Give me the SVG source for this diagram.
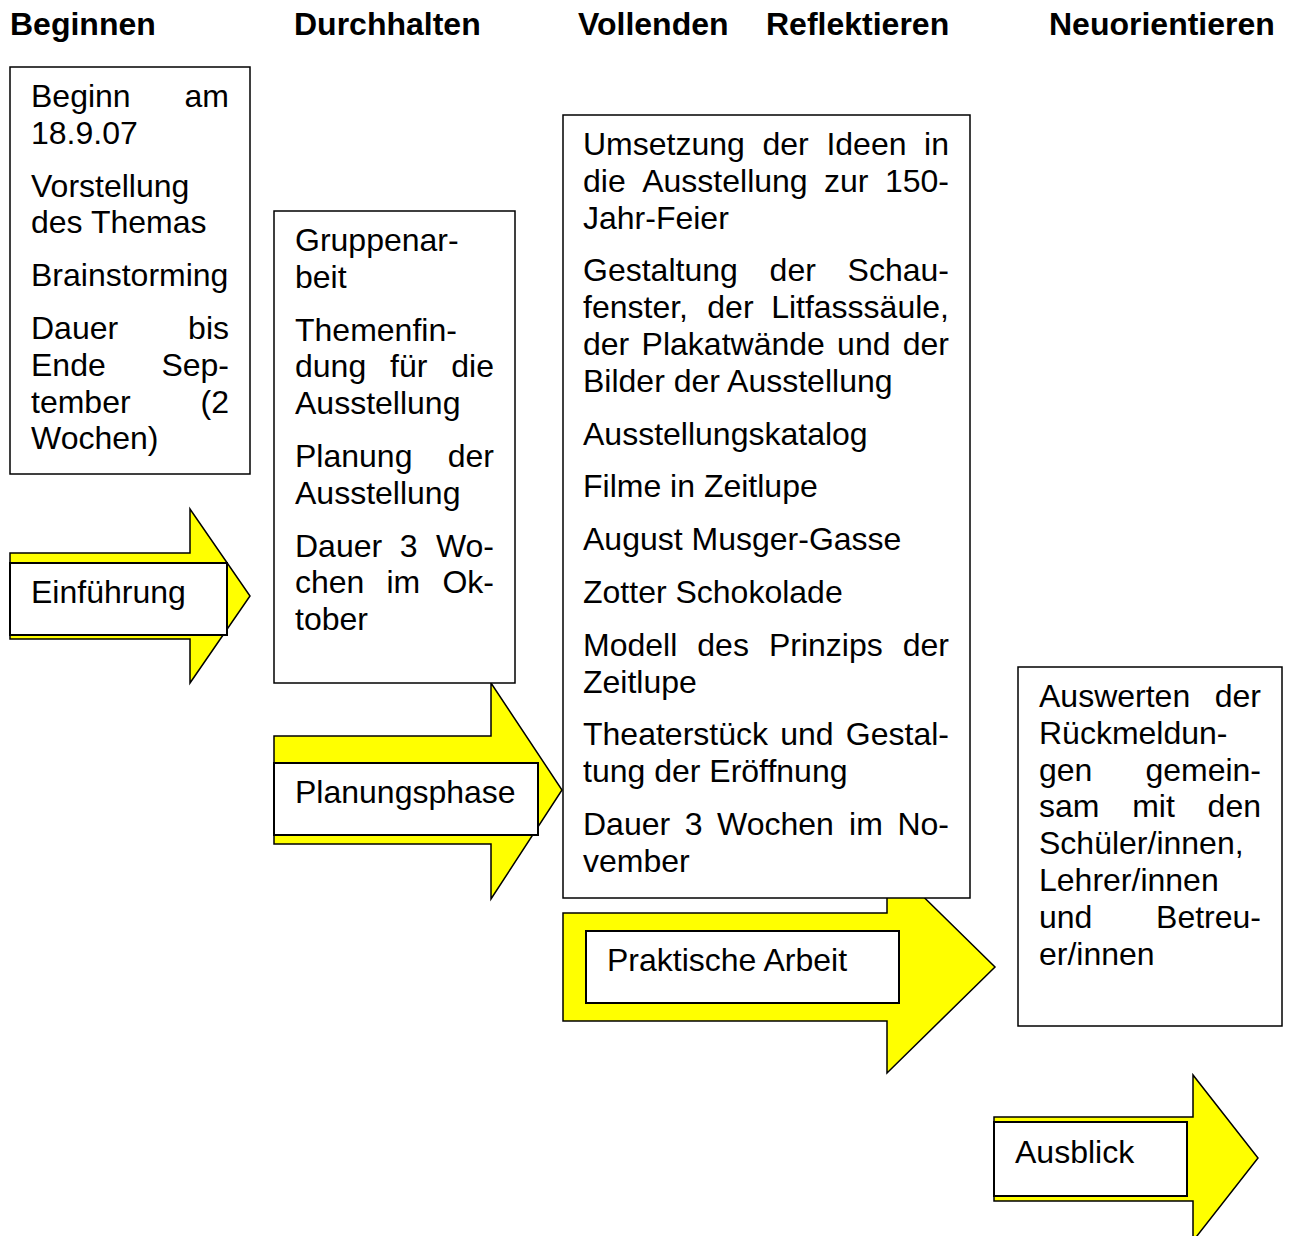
<svg xmlns="http://www.w3.org/2000/svg" width="1291" height="1236" viewBox="0 0 1291 1236">
<style>
text{font-family:"Liberation Sans",Arial,sans-serif;font-size:32px;fill:#000}
.h{font-weight:bold}
.e{text-anchor:end}
.box{fill:#fff;stroke:#000;stroke-width:1.5}
.lbl{fill:#fff;stroke:#000;stroke-width:2}
.arr{fill:#ffff00;stroke:#000;stroke-width:1.5;stroke-linejoin:miter}
</style>
<rect width="1291" height="1236" fill="#fff"/>
<g id="headings">
<text class="h" x="10" y="35">Beginnen</text>
<text class="h" x="294" y="35">Durchhalten</text>
<text class="h" x="578" y="35">Vollenden</text>
<text class="h" x="766" y="35">Reflektieren</text>
<text class="h" x="1049" y="35">Neuorientieren</text>
</g>
<g id="arrow-einfuehrung">
<polygon class="arr" points="10,553 190,553 190,509 250,596 190,683 190,639 10,639"/>
<rect class="lbl" x="10" y="563" width="217" height="72"/>
<text x="31" y="603">Einführung</text>
</g>
<g id="arrow-planungsphase">
<polygon class="arr" points="274,736 491,736 491,683 562,790 491,899 491,844 274,844"/>
<rect class="lbl" x="274" y="763" width="264" height="72"/>
<text x="295" y="803">Planungsphase</text>
</g>
<g id="arrow-praktische-arbeit">
<polygon class="arr" points="563,913 887,913 887,861 995,967 887,1073 887,1021 563,1021"/>
<rect class="lbl" x="586" y="931" width="313" height="72"/>
<text x="607" y="971">Praktische Arbeit</text>
</g>
<g id="arrow-ausblick">
<polygon class="arr" points="994,1117 1193,1117 1193,1075 1258,1158 1193,1241 1193,1201 994,1201"/>
<rect class="lbl" x="994" y="1122" width="193" height="74"/>
<text x="1015" y="1163">Ausblick</text>
</g>
<g id="box-beginnen">
<rect class="box" x="10" y="67" width="240" height="407"/>
<text x="31" y="107">Beginn</text><text class="e" x="229" y="107">am</text>
<text x="31" y="143.8">18.9.07</text>
<text x="31" y="196.6">Vorstellung</text>
<text x="31" y="233.4">des Themas</text>
<text x="31" y="286.2">Brainstorming</text>
<text x="31" y="339">Dauer</text><text class="e" x="229" y="339">bis</text>
<text x="31" y="375.8">Ende</text><text class="e" x="229" y="375.8">Sep-</text>
<text x="31" y="412.6">tember</text><text class="e" x="229" y="412.6">(2</text>
<text x="31" y="449.4">Wochen)</text>
</g>
<g id="box-durchhalten">
<rect class="box" x="274" y="211" width="241" height="472"/>
<text x="295" y="251">Gruppenar-</text>
<text x="295" y="287.8">beit</text>
<text x="295" y="340.6">Themenfin-</text>
<text x="295" y="377.4">dung</text><text x="390.1" y="377.4">für</text><text class="e" x="494" y="377.4">die</text>
<text x="295" y="414.2">Ausstellung</text>
<text x="295" y="467">Planung</text><text class="e" x="494" y="467">der</text>
<text x="295" y="503.8">Ausstellung</text>
<text x="295" y="556.6">Dauer</text><text x="399.8" y="556.6">3</text><text class="e" x="494" y="556.6">Wo-</text>
<text x="295" y="593.4">chen</text><text x="386.5" y="593.4">im</text><text class="e" x="494" y="593.4">Ok-</text>
<text x="295" y="630.2">tober</text>
</g>
<g id="box-vollenden">
<rect class="box" x="563" y="115" width="407" height="783"/>
<text x="583" y="155">Umsetzung</text><text x="762.5" y="155">der</text><text x="826.4" y="155">Ideen</text><text class="e" x="949" y="155">in</text>
<text x="583" y="191.8">die</text><text x="642.2" y="191.8">Ausstellung</text><text x="824" y="191.8">zur</text><text class="e" x="949" y="191.8">150-</text>
<text x="583" y="228.6">Jahr-Feier</text>
<text x="583" y="281.4">Gestaltung</text><text x="769.6" y="281.4">der</text><text class="e" x="949" y="281.4">Schau-</text>
<text x="583" y="318.2">fenster,</text><text x="707.3" y="318.2">der</text><text class="e" x="949" y="318.2">Litfasssäule,</text>
<text x="583" y="355">der</text><text x="641.6" y="355">Plakatwände</text><text x="837.1" y="355">und</text><text class="e" x="949" y="355">der</text>
<text x="583" y="391.8">Bilder der Ausstellung</text>
<text x="583" y="444.6">Ausstellungskatalog</text>
<text x="583" y="497.4">Filme in Zeitlupe</text>
<text x="583" y="550.2">August Musger-Gasse</text>
<text x="583" y="603">Zotter Schokolade</text>
<text x="583" y="655.8">Modell</text><text x="697.3" y="655.8">des</text><text x="768.9" y="655.8">Prinzips</text><text class="e" x="949" y="655.8">der</text>
<text x="583" y="692.6">Zeitlupe</text>
<text x="583" y="745.4">Theaterstück</text><text x="780.2" y="745.4">und</text><text class="e" x="949" y="745.4">Gestal-</text>
<text x="583" y="782.2">tung der Eröffnung</text>
<text x="583" y="835">Dauer</text><text x="684.7" y="835">3</text><text x="717.1" y="835">Wochen</text><text x="849.1" y="835">im</text><text class="e" x="949" y="835">No-</text>
<text x="583" y="871.8">vember</text>
</g>
<g id="box-reflektieren">
<rect class="box" x="1018" y="667" width="264" height="359"/>
<text x="1039" y="707">Auswerten</text><text class="e" x="1261" y="707">der</text>
<text x="1039" y="743.8">Rückmeldun-</text>
<text x="1039" y="780.6">gen</text><text class="e" x="1261" y="780.6">gemein-</text>
<text x="1039" y="817.4">sam</text><text x="1132.2" y="817.4">mit</text><text class="e" x="1261" y="817.4">den</text>
<text x="1039" y="854.2">Schüler/innen,</text>
<text x="1039" y="891">Lehrer/innen</text>
<text x="1039" y="927.8">und</text><text class="e" x="1261" y="927.8">Betreu-</text>
<text x="1039" y="964.6">er/innen</text>
</g>
</svg>
